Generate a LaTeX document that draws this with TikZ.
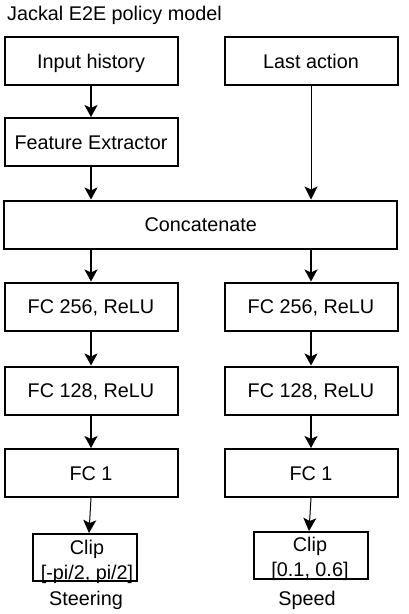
\documentclass[tikz,border=0pt]{standalone}
\usepackage{fontspec}
\setmainfont{Liberation Sans}
\usetikzlibrary{arrows.meta}
\begin{document}
\begin{tikzpicture}[x=1pt,y=-1pt,
  box/.style={draw=black,line width=2pt,rectangle,inner sep=0pt,
    minimum width=173pt,minimum height=48pt,font=\fontsize{19.8}{25}\selectfont,
    text height=14.2pt,text depth=0pt},
  lbl/.style={inner sep=0pt,font=\fontsize{19.8}{25}\selectfont},
  thickarrow/.style={line width=2pt,-{Stealth[length=12pt,width=13pt,inset=3pt]}},
  thinarrow/.style={line width=1pt,-{Stealth[length=13pt,width=13pt,inset=3pt]}}]
\useasboundingbox[fill=white] (0,0) rectangle (408,614);
\node[lbl,anchor=west] (title) at (7,15) {Jackal E2E policy model};
\node[box] (inp) at (91,61) {Input history};
\node[box] (last) at (311,61) {Last action};
\node[box] (feat) at (91,142) {Feature Extractor};
\node[box,minimum width=393pt] (cat) at (200.75,224.5) {Concatenate};
\node[box] (aL) at (91,306.5) {FC 256, ReLU};
\node[box] (aR) at (311,306.5) {FC 256, ReLU};
\node[box] (bL) at (91,390.5) {FC 128, ReLU};
\node[box] (bR) at (311,390.5) {FC 128, ReLU};
\node[box] (cL) at (91,473) {FC 1};
\node[box] (cR) at (311,473) {FC 1};
\node[box,minimum width=104pt,minimum height=47pt] (clipL) at (85,557.5) {};
\node[box,minimum width=114pt,minimum height=47pt] (clipR) at (311,555.5) {};
\node[lbl,align=center,anchor=north] (clipLt) at (87,539.5) {Clip\\{}[-pi/2, pi/2]};
\node[lbl,align=center,anchor=north] (clipRt) at (310,536.5) {Clip\\{}[0.1, 0.6]};
\node[lbl] (steer) at (86,600) {Steering};
\node[lbl] (speed) at (307,600) {Speed};
\draw[thickarrow] (inp.south) -- (feat.north);
\draw[thickarrow] (feat.south) -- (feat.south |- cat.north);
\draw[thinarrow] (last.south) -- (last.south |- cat.north);
\draw[thickarrow] (aL.north |- cat.south) -- (aL.north);
\draw[thickarrow] (aR.north |- cat.south) -- (aR.north);
\draw[thickarrow] (aL.south) -- (bL.north);
\draw[thickarrow] (aR.south) -- (bR.north);
\draw[thickarrow] (bL.south) -- (cL.north);
\draw[thickarrow] (bR.south) -- (cR.north);
\draw[thinarrow] (cL.south) -- ([xshift=-2pt]cL.south |- clipL.north);
\draw[thinarrow] (cR.south) -- ([xshift=-2pt]cR.south |- clipR.north);
\end{tikzpicture}
\end{document}
